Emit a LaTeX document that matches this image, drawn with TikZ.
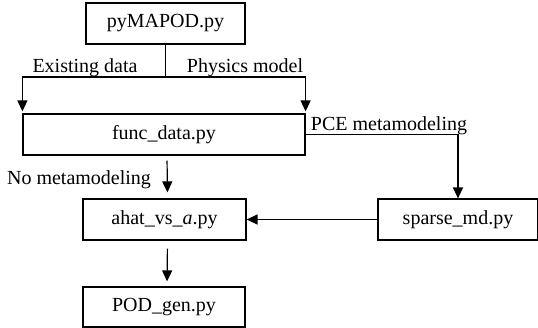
\documentclass[tikz,border=0pt]{standalone}
\usepackage{fontspec}
\setmainfont{Liberation Serif}
\usetikzlibrary{arrows.meta}
\usetikzlibrary{positioning}
\tikzset{
    script/.style = {rectangle,draw,line width=0.6pt,minimum height=20.5pt,inner sep=2pt},
    flow/.style = {-{Triangle[length=5.5pt,width=5pt]},line width=0.6pt},
    branch/.style = {inner sep=0pt}}

\begin{document}
\begin{tikzpicture}[x=0.5pt,y=-0.5pt]
        \useasboundingbox (0,0) rectangle (538,328);
        \path (165.5,23.5) node[script,minimum width=79.5pt] (main) {pyMAPOD.py}
        (164,134.5) node[script,minimum width=141pt] (data) {func\_data.py}
        (164.5,219.5) node[script,minimum width=81.5pt] (ahat) {ahat\_vs\_\textit{a}.py}
        (164,307) node[script,minimum width=81pt,minimum height=20pt] (pod) {POD\_gen.py}
        (458,219.5) node[script,minimum width=80pt] (sparse) {sparse\_md.py};
        \coordinate (split) at (165.5,77);
        \path (85,68) node[branch] (exist) {Existing data}
        (245,68) node[branch] (phys) {Physics model}
        (389,126) node[branch] (pce) {PCE metamodeling}
        (79,180) node[branch] (nometa) {No metamodeling};
        \draw[line width=0.6pt] (main) -- (split);
        \draw[flow,shorten >=1pt] (split) -| (data.north west);
        \draw[flow,shorten >=1pt] (split) -| (data.north east);
        \draw[flow] (data.east) -| (sparse.north);
        \draw[flow,shorten <=2.5pt,shorten >=3pt] ([xshift=1.5pt]data.south) -- ([xshift=1.5pt]ahat.north);
        \draw[flow] (sparse) -- (ahat);
        \draw[flow,shorten <=4pt,shorten >=2.5pt] ([xshift=1.5pt]ahat.south) -- ([xshift=1.5pt]pod.north);
    \end{tikzpicture}
\end{document}
